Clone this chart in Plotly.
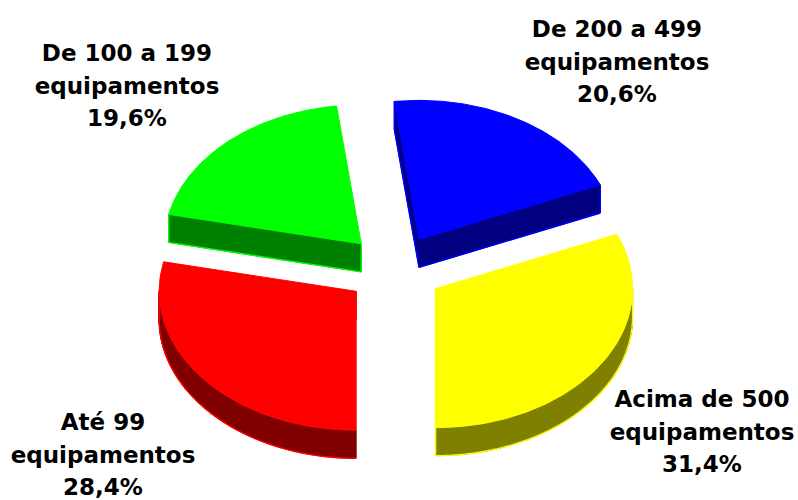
import numpy as np
import plotly.graph_objects as go

categories = ["Até 99 equipamentos", "De 100 a 199 equipamentos", "De 200 a 499 equipamentos", "Acima de 500 equipamentos"]
values = [28.4, 19.6, 20.6, 31.4]
label_first = ["Até 99", "De 100 a 199", "De 200 a 499", "Acima de 500"]
label_second = "equipamentos"
label_pct = ["28,4%", "19,6%", "20,6%", "31,4%"]
top_colors = ["#ff0000", "#00ff00", "#0000ff", "#ffff00"]
side_colors = ["#800000", "#008000", "#000080", "#808000"]
label_x = [103, 127, 617, 702]
label_y = [457, 88, 64, 434]

CX, CY, RX, RY = 394.5, 269.5, 197.0, 139.0
EXPLODE, DEPTH = 0.25, 28.0
LINE_GAP = 32.7
FONT = "DejaVu Sans"


def wedge(start_pct, pct):
    """Top-face outline: angle measured clockwise from the bottom of the ellipse."""
    a0 = np.radians(start_pct * 3.6)
    a1 = np.radians((start_pct + pct) * 3.6)
    mid = (a0 + a1) / 2
    ax = CX - EXPLODE * RX * np.sin(mid)
    ay = CY + EXPLODE * RY * np.cos(mid)
    t = np.linspace(a0, a1, 120)
    return ax, ay, ax - RX * np.sin(t), ay + RY * np.cos(t)


def closed(xs, ys):
    return list(xs) + [xs[0]], list(ys) + [ys[0]]


fig = go.Figure()
starts = np.cumsum([0] + values[:-1])
# paint back slices first
for i in [2, 1, 3, 0]:
    ax, ay, ex, ey = wedge(starts[i], values[i])
    px = np.concatenate([[ax], ex])
    py = np.concatenate([[ay], ey])
    # extruded sides: quad per outline edge, visible (front-facing) ones only
    sx, sy, rim_x, rim_y = [], [], [], []
    n = len(px)
    for k in range(n):
        j = (k + 1) % n
        if px[j] < px[k]:
            sx += [px[k], px[j], px[j], px[k], px[k], None]
            sy += [py[k], py[j], py[j] + DEPTH, py[k] + DEPTH, py[k], None]
            rim_x += [px[k], px[j], None]
            rim_y += [py[k] + DEPTH, py[j] + DEPTH, None]
    for k in (int(np.argmin(px)), int(np.argmax(px))):
        rim_x += [px[k], px[k], None]
        rim_y += [py[k], py[k] + DEPTH, None]
    fig.add_trace(go.Scatter(x=sx, y=sy, mode="lines", fill="toself", fillcolor=side_colors[i],
                             line=dict(color=side_colors[i], width=1), hoverinfo="skip", showlegend=False))
    fig.add_trace(go.Scatter(x=rim_x, y=rim_y, mode="lines", line=dict(color=top_colors[i], width=1.4),
                             hoverinfo="skip", showlegend=False))
    tx, ty = closed(px, py)
    fig.add_trace(go.Scatter(x=tx, y=ty, mode="lines", fill="toself", fillcolor=top_colors[i],
                             line=dict(color=top_colors[i], width=1), name=categories[i],
                             text=[f"{values[i]}%"] * len(tx), hoverinfo="name+text", showlegend=False))

text_x, text_y, text_s = [], [], []
for i in range(4):
    text_x += [label_x[i]] * 3
    text_y += [label_y[i] - LINE_GAP, label_y[i], label_y[i] + LINE_GAP]
    text_s += [label_first[i], label_second, label_pct[i]]
fig.add_trace(go.Scatter(x=text_x, y=text_y, mode="text", text=text_s, textposition="middle center",
                         textfont=dict(family=FONT, size=23, color="black", weight="bold"),
                         hoverinfo="skip", showlegend=False))

fig.update_layout(width=798, height=500, margin=dict(l=0, r=0, t=0, b=0),
                  paper_bgcolor="white", plot_bgcolor="white",
                  xaxis=dict(range=[0, 798], visible=False, fixedrange=True),
                  yaxis=dict(range=[500, 0], visible=False, fixedrange=True))
fig.write_html("out.html", config={"displayModeBar": False},
               post_script="document.body.style.margin='0';document.body.style.overflow='hidden';")
